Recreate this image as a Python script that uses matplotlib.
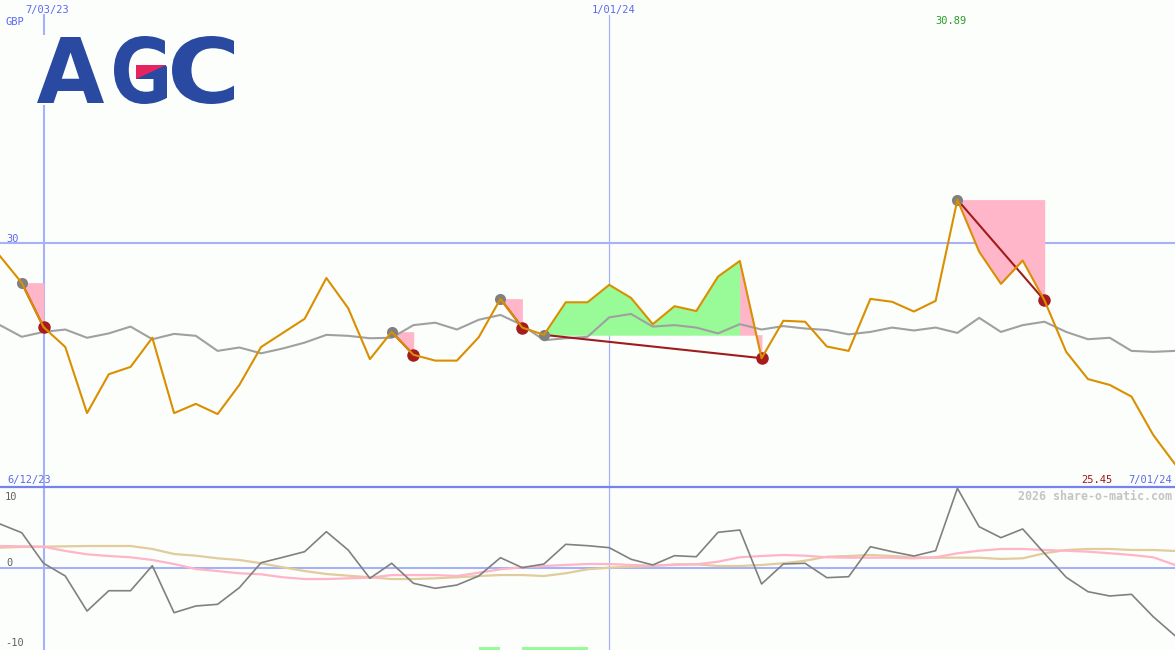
import matplotlib
matplotlib.use("Agg")
import matplotlib.pyplot as plt
from matplotlib.patches import Polygon, Rectangle, PathPatch
from matplotlib.textpath import TextPath
from matplotlib.font_manager import FontProperties
from matplotlib.transforms import Affine2D

W, H, DPI = 1175, 650, 100

# ---------------- data (weekly points) ----------------
price = [29.73, 29.18, 28.27, 27.86, 26.50, 27.30, 27.45, 28.05, 26.50, 26.69,
         26.48, 27.08, 27.86, 28.15, 28.44, 29.28, 28.66, 27.61, 28.17, 27.70,
         27.58, 27.58, 28.06, 28.85, 28.26, 28.11, 28.78, 28.78, 29.14, 28.87,
         28.33, 28.70, 28.60, 29.31, 29.63, 27.63, 28.40, 28.38, 27.87, 27.78,
         28.85, 28.79, 28.59, 28.81, 30.89, 29.82, 29.16, 29.64, 28.82, 27.76,
         27.20, 27.08, 26.84, 26.05, 25.45]
avg = [28.31, 28.07, 28.17, 28.22, 28.05, 28.14, 28.28, 28.02, 28.13, 28.09,
       27.78, 27.85, 27.73, 27.83, 27.95, 28.11, 28.09, 28.04, 28.05, 28.31,
       28.36, 28.22, 28.42, 28.52, 28.31, 28.00, 28.04, 28.07, 28.47, 28.54,
       28.28, 28.31, 28.26, 28.14, 28.33, 28.22, 28.29, 28.24, 28.21, 28.12,
       28.17, 28.26, 28.20, 28.26, 28.15, 28.46, 28.17, 28.31, 28.38, 28.17,
       28.02, 28.05, 27.78, 27.76, 27.78]
osc = [5.5, 4.41, 0.59, -1.0, -5.38, -2.84, -2.84, 0.29, -5.59, -4.75,
       -4.54, -2.46, 0.66, 1.34, 2.04, 4.54, 2.25, -1.29, 0.59, -1.91,
       -2.54, -2.13, -1.0, 1.29, 0.04, 0.5, 2.96, 2.79, 2.54, 1.09,
       0.38, 1.54, 1.41, 4.46, 4.75, -2.0, 0.5, 0.59, -1.21, -1.09,
       2.66, 2.04, 1.5, 2.16, 9.96, 5.16, 3.79, 4.88, 1.84, -1.16,
       -2.96, -3.5, -3.29, -6.09, -8.46]
osc_pink = [2.75, 2.71, 2.66, 2.13, 1.71, 1.5, 1.34, 1.0, 0.5, -0.13,
            -0.38, -0.66, -0.79, -1.16, -1.38, -1.38, -1.29, -1.21, -0.88, -0.88,
            -0.88, -1.0, -0.59, -0.16, 0.09, 0.25, 0.38, 0.5, 0.5, 0.38,
            0.29, 0.38, 0.46, 0.79, 1.34, 1.5, 1.63, 1.54, 1.34, 1.29,
            1.29, 1.29, 1.21, 1.34, 1.84, 2.16, 2.38, 2.38, 2.25, 2.16,
            2.04, 1.84, 1.63, 1.34, 0.38]
osc_tan = [2.54, 2.63, 2.66, 2.71, 2.75, 2.75, 2.75, 2.38, 1.75, 1.54,
           1.21, 1.0, 0.59, 0.09, -0.38, -0.75, -0.96, -1.16, -1.38, -1.38,
           -1.29, -1.16, -1.0, -0.88, -0.88, -1.0, -0.66, -0.16, 0.04, 0.16,
           0.25, 0.46, 0.46, 0.25, 0.25, 0.38, 0.59, 0.91, 1.41, 1.5,
           1.63, 1.5, 1.34, 1.29, 1.29, 1.29, 1.13, 1.21, 1.84, 2.25,
           2.38, 2.38, 2.25, 2.25, 2.13]
entries = [1, 18, 23, 25, 44]
exits = [2, 19, 24, 35, 48]
signal_start = [22, 24]
signal_end = [23, 27]
grid_idx = [2, 28]
grid_labels = ["7/03/23", "1/01/24"]
start_label = "6/12/23"
end_label = "7/01/24"
price_grid = [30]
osc_ticks = [10, 0, -10]
currency = "GBP"
x = list(range(len(price)))

# ---------------- styles ----------------
BG = "#fcfefc"
GRID = "#a6b2f8"
SEP = "#7683ec"
BLUE_TXT = "#5c68f0"
ORANGE = "#d98f00"
GREY = "#a0a0a0"
GREEN_F = "#98fb98"
PINK_F = "#ffb6c8"
DARKRED = "#a11b1b"
MONO = "DejaVu Sans Mono"

fig = plt.figure(figsize=(W / DPI, H / DPI), dpi=DPI, facecolor=BG)
ax1 = fig.add_axes([0, 1 - 486 / H, 1, 486 / H])
ax2 = fig.add_axes([0, 0, 1, 163 / H])
for ax in (ax1, ax2):
    ax.set_facecolor(BG)
    ax.set_xlim(0, len(price) - 1)
    ax.set_xticks([]); ax.set_yticks([])
    for s in ax.spines.values():
        s.set_visible(False)
ax1.set_ylim(25, 35)
ax2.set_ylim(-10.25, 10.125)
ax2.spines["top"].set_visible(True)
ax2.spines["top"].set_color(SEP)
ax2.spines["top"].set_linewidth(1.6)

# grid
for g in price_grid:
    ax1.axhline(g, color=GRID, lw=1.5, zorder=1)
for k, gi in enumerate(grid_idx):
    ax1.axvline(gi, ymax=1 - 15 / 486, color=GRID, lw=1.5 if k == 0 else 0.9, zorder=1)
    ax2.axvline(gi, color=GRID, lw=1.5 if k == 0 else 0.9, zorder=1)
ax2.axhline(0, color=GRID, lw=1.5, zorder=1)

# trade fills: consecutive segments of the same colour are merged
for e, xx in zip(entries, exits):
    lvl = price[e]
    cols = [GREEN_F if price[i + 1] >= lvl else PINK_F for i in range(e, xx)]
    start = e
    for k in range(len(cols)):
        if k == len(cols) - 1 or cols[k + 1] != cols[k]:
            end = e + k + 1
            ax1.fill_between(x[start:end + 1], lvl, price[start:end + 1],
                             facecolor=cols[k], edgecolor=cols[k], lw=0.4, zorder=2)
            start = end

ax1.plot(x, avg, color=GREY, lw=1.5, zorder=3)
for e, xx in zip(entries, exits):
    ax1.plot([e, xx], [price[e], price[xx]], color=DARKRED, lw=1.5, zorder=4)
ax1.plot(entries, [price[i] for i in entries], 'o', color="#808080", ms=8, mew=0, zorder=5)
ax1.plot(exits, [price[i] for i in exits], 'o', color="#a61c1c", ms=9, mew=0, zorder=5)
ax1.plot(x, price, color=ORANGE, lw=1.5, zorder=6)

# lower panel
ax2.plot(x, osc_tan, color="#e2cb9c", lw=1.6, zorder=3)
ax2.plot(x, osc_pink, color="#ffb4c8", lw=1.6, zorder=3)
ax2.plot(x, osc, color="#808080", lw=1.2, zorder=4)
for a, b in zip(signal_start, signal_end):
    ax2.fill_between([a, b], -10.25, -9.85, color=GREEN_F, lw=0, zorder=2)

# ---------------- texts ----------------
def ptext(px, py, s, **kw):
    kw.setdefault("family", MONO)
    kw.setdefault("fontsize", 7.5)
    kw.setdefault("va", "baseline")
    fig.text(px / W, 1 - py / H, s, **kw)

ptext(6, 25, currency, color=BLUE_TXT)
for gi, lab in zip(grid_idx, grid_labels):
    px = gi * W / (len(price) - 1)
    ptext(px + 4, 13, lab, color=BLUE_TXT, ha="center")
imax = price.index(max(price))
ptext(imax * W / (len(price) - 1) - 6, 24, f"{max(price):.2f}", color="#2a9a2a", ha="center")
ptext(6, 242, f"{price_grid[0]}", color=BLUE_TXT)
ptext(7, 483, start_label, color=BLUE_TXT)
ptext(1113, 483, f"{price[-1]:.2f}", color="#a01818", ha="right")
ptext(1172, 483, end_label, color=BLUE_TXT, ha="right")
ptext(1172, 500, "2026 share-o-matic.com", color="#c4c4c4", ha="right",
      fontsize=8.4, fontweight="bold")
ptext(5, 500, str(osc_ticks[0]), color="#606060")
ptext(6, 566, str(osc_ticks[1]), color="#606060")
ptext(5, 646, str(osc_ticks[2]), color="#606060")

# ---------------- logo ----------------
fig.add_artist(Rectangle((36 / W, 1 - 105 / H), 198 / W, 70 / H,
                         transform=fig.transFigure, fc=BG, ec="none", zorder=10))
fp = FontProperties(family="DejaVu Sans", weight="bold")
LOGO = "#2a4aa2"

def logo_letter(ch, x0, x1, ytop, ybot):
    tp = TextPath((0, 0), ch, size=100, prop=fp)
    ext = tp.get_extents()
    sx = (x1 - x0) / ext.width
    sy = (ybot - ytop) / ext.height
    tr = (Affine2D().translate(-ext.x0, -ext.y0).scale(sx, sy)
          .translate(x0, H - ybot).scale(1 / W, 1 / H) + fig.transFigure)
    fig.add_artist(PathPatch(tp, transform=tr, fc=LOGO, ec="none", zorder=11))

logo_letter("A", 37, 104, 37, 103)
logo_letter("G", 114, 167, 36, 104)
logo_letter("C", 172, 234, 36, 104)
# bar of the G: lower-right half blue, upper-left half pink
bar = [(136, 65), (166, 65), (166, 79), (136, 79)]
fig.add_artist(Polygon([(px / W, 1 - py / H) for px, py in bar], closed=True,
                       transform=fig.transFigure, fc=LOGO, ec="none", zorder=12))
tri = [(136, 65), (166, 65), (136, 79)]
fig.add_artist(Polygon([(px / W, 1 - py / H) for px, py in tri], closed=True,
                       transform=fig.transFigure, fc="#e8245e", ec="none", zorder=13))

fig.savefig("out.png", dpi=DPI, facecolor=BG)
